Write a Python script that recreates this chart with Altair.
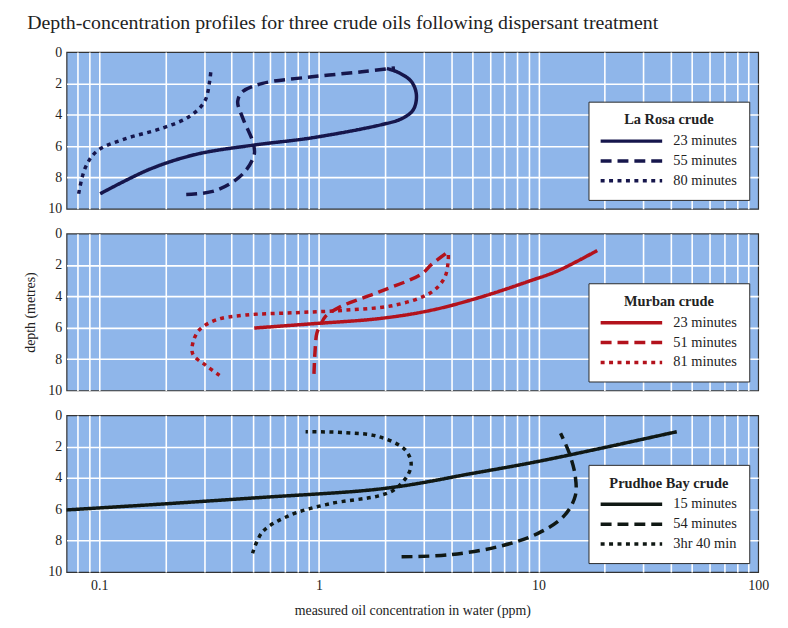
import altair as alt
import pandas as pd

SERIF = "Liberation Serif"

# ---------------- data ----------------
# La Rosa crude
larosa_23_x = [0.101, 0.170, 0.277, 0.508, 0.93, 1.93, 2.38, 2.69, 2.78, 2.64, 2.30, 2.04]
larosa_23_d = [9.04, 7.47, 6.52, 5.93, 5.47, 4.63, 4.25, 3.68, 2.73, 1.89, 1.30, 1.05]
larosa_55_x = [0.249, 0.340, 0.45, 0.508, 0.499, 0.45, 0.427, 0.45, 0.554, 0.93, 1.57, 2.22]
larosa_55_d = [9.09, 8.83, 7.78, 6.52, 5.68, 4.20, 3.15, 2.52, 2.00, 1.58, 1.26, 1.01]
larosa_80_x = [0.0806, 0.0865, 0.0977, 0.129, 0.195, 0.258, 0.302, 0.318, 0.323]
larosa_80_d = [9.04, 7.36, 6.31, 5.57, 4.84, 4.10, 3.15, 1.89, 1.05]

# Murban crude
murban_23_x = [0.508, 0.93, 1.93, 3.26, 5.48, 9.2, 12.2, 18.5]
murban_23_d = [6.02, 5.75, 5.40, 4.88, 4.04, 3.00, 2.38, 1.08]
murban_51_x = [0.95, 0.96, 0.98, 1.02, 1.07, 1.25, 1.87, 2.93, 3.26, 3.94]
murban_51_d = [8.94, 7.58, 6.33, 5.81, 5.29, 4.67, 3.73, 2.58, 1.96, 1.08]
murban_81_x = [0.353, 0.307, 0.267, 0.267, 0.286, 0.341, 0.466, 0.785, 1.32, 2.22, 3.26, 3.74, 3.88, 3.88]
murban_81_d = [9.04, 8.42, 7.69, 6.96, 6.13, 5.50, 5.19, 5.04, 4.88, 4.56, 3.73, 2.79, 1.75, 1.13]

# Prudhoe Bay crude
prudhoe_15_x = [0.071, 0.195, 0.554, 1.57, 2.30, 3.20, 4.61, 9.2, 18.5, 42.6]
prudhoe_15_d = [6.04, 5.66, 5.24, 4.82, 4.55, 4.22, 3.80, 3.04, 2.16, 1.05]
prudhoe_54_x = [2.38, 3.87, 6.52, 9.9, 13.1, 14.7, 14.7, 13.8, 12.6]
prudhoe_54_d = [9.03, 8.91, 8.39, 7.55, 6.40, 5.14, 3.88, 2.41, 1.15]
prudhoe_220_x = [0.499, 0.554, 0.732, 1.11, 1.87, 2.22, 2.55, 2.63, 2.47, 1.87, 1.32, 0.87]
prudhoe_220_d = [8.81, 7.44, 6.40, 5.66, 5.14, 4.72, 3.77, 3.04, 2.20, 1.36, 1.11, 1.05]

larosa_labels = ["23 minutes", "55 minutes", "80 minutes"]
murban_labels = ["23 minutes", "51 minutes", "81 minutes"]
prudhoe_labels = ["15 minutes", "54 minutes", "3hr 40 min"]

panel_titles = ["La Rosa crude", "Murban crude", "Prudhoe Bay crude"]
panel_colors = ["#16164c", "#b3121c", "#101814"]

x_grid_values = [0.08, 0.09, 0.1, 0.2, 0.3, 0.4, 0.5, 0.6, 0.7, 0.8, 0.9,
                 1, 2, 3, 4, 5, 6, 7, 8, 9, 10, 20, 30, 40, 50, 60, 70, 80, 90, 100]
x_label_values = [0.1, 1, 10, 100]
y_values = [0, 2, 4, 6, 8, 10]

title_text = "Depth-concentration profiles for three crude oils following dispersant treatment"
x_title = "measured oil concentration in water (ppm)"
y_title = "depth (metres)"


def make_df(series_list):
    rows = []
    for label, xs, ds in series_list:
        for i, (x, d) in enumerate(zip(xs, ds)):
            rows.append({"conc": x, "depth": d, "series": label, "i": i})
    return pd.DataFrame(rows)


df_larosa = make_df([(larosa_labels[0], larosa_23_x, larosa_23_d),
                     (larosa_labels[1], larosa_55_x, larosa_55_d),
                     (larosa_labels[2], larosa_80_x, larosa_80_d)])
df_murban = make_df([(murban_labels[0], murban_23_x, murban_23_d),
                     (murban_labels[1], murban_51_x, murban_51_d),
                     (murban_labels[2], murban_81_x, murban_81_d)])
df_prudhoe = make_df([(prudhoe_labels[0], prudhoe_15_x, prudhoe_15_d),
                      (prudhoe_labels[1], prudhoe_54_x, prudhoe_54_d),
                      (prudhoe_labels[2], prudhoe_220_x, prudhoe_220_d)])

label_test = " || ".join(f"datum.value == {v}" for v in x_label_values)


def panel(df, title, labels, color, bottom, middle):
    x_axis = alt.Axis(
        values=x_grid_values,
        labels=bottom,
        labelExpr=f"({label_test}) ? format(datum.value, '~g') : ''",
        labelFlush=False,
        labelOverlap=False,
        labelFont=SERIF, labelFontSize=14, labelColor="#222", labelPadding=7,
        title=x_title if bottom else None,
        titleFont=SERIF, titleFontSize=14, titleFontWeight="normal", titleColor="#222",
        titlePadding=11,
        ticks=False, domain=False,
        grid=True, gridColor="white", gridWidth=1.6,
        gridOpacity={"condition": {"test": "datum.value >= 100", "value": 0}, "value": 1},
    )
    y_axis = alt.Axis(
        values=y_values,
        labelFont=SERIF, labelFontSize=14, labelColor="#222", labelPadding=5,
        title=y_title if middle else None,
        titleFont=SERIF, titleFontSize=14, titleFontWeight="normal", titleColor="#222",
        titlePadding=10,
        ticks=False, domain=False,
        grid=True, gridColor="white", gridWidth=1.6,
        gridOpacity={"condition": {"test": "datum.value == 0 || datum.value == 10", "value": 0}, "value": 1},
    )
    legend = alt.Legend(
        title=title, orient="bottom-right", offset=9,
        fillColor="white", strokeColor="#2a2a2a", padding=12,
        titleFont=SERIF, titleFontSize=14.5, titleFontWeight="bold", titleColor="#222",
        titleAnchor="middle", titlePadding=6,
        labelFont=SERIF, labelFontSize=14.5, labelColor="#222",
        symbolType="M-6.2,0H6.2", symbolSize=100, symbolStrokeWidth=3.5,
        symbolStrokeColor=color, symbolOffset=24, labelOffset=35, rowPadding=4,
    )
    return alt.Chart(df).mark_line(strokeWidth=3.5, interpolate="catmull-rom").encode(
        x=alt.X("conc:Q", scale=alt.Scale(type="log", domain=[0.071, 100], nice=False), axis=x_axis),
        y=alt.Y("depth:Q", scale=alt.Scale(domain=[0, 10], reverse=True, nice=False), axis=y_axis),
        strokeDash=alt.StrokeDash("series:N", sort=labels,
                                  scale=alt.Scale(domain=labels, range=[[1, 0], [11, 6], [4, 4.5]]),
                                  legend=legend),
        order="i:Q",
        color=alt.value(color),
    ).properties(width=697, height=158)


p1 = panel(df_larosa, panel_titles[0], larosa_labels, panel_colors[0], False, False)
p2 = panel(df_murban, panel_titles[1], murban_labels, panel_colors[1], False, True)
p3 = panel(df_prudhoe, panel_titles[2], prudhoe_labels, panel_colors[2], True, False)

chart = alt.vconcat(p1, p2, p3, spacing=25, bounds="flush").resolve_scale(
    strokeDash="independent"
).resolve_legend(strokeDash="independent").properties(
    title=alt.TitleParams(title_text, anchor="start", font=SERIF, fontSize=20,
                          fontWeight="normal", color="#222", offset=12, dx=4),
    padding={"left": 15, "top": 2, "right": 10, "bottom": 5},
    background="white",
).configure_view(
    fill="#8fb6ea", stroke="#333333", strokeWidth=1.2
)

chart.save("out.html", embed_options={"renderer": "svg", "actions": False})
